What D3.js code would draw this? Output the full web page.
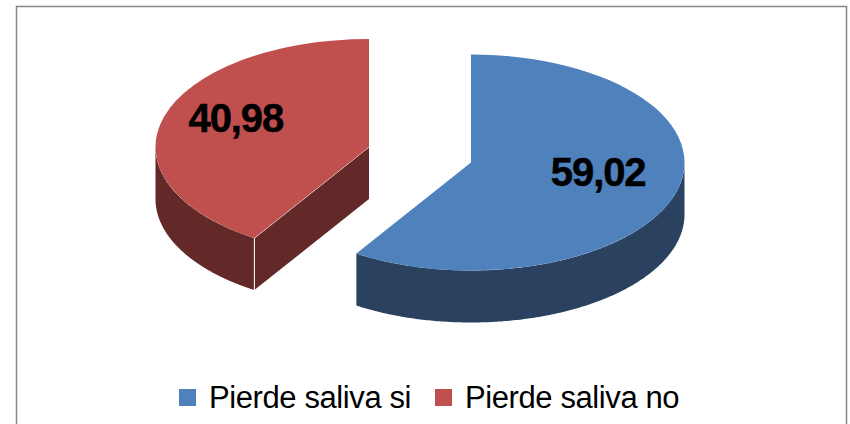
<!DOCTYPE html>
<html>
<head>
<meta charset="utf-8">
<script src="https://cdn.jsdelivr.net/npm/d3@7"></script>
<style>
    html, body { margin: 0; padding: 0; background: #fff; overflow: hidden; }
    text { font-family: "Liberation Sans", Arial, sans-serif; }
</style>
</head>
<body>
<svg width="850" height="424"></svg>
<script>
var categories = ['Pierde saliva si', 'Pierde saliva no'];
var values = [59.02, 40.98];
var valueLabels = ['59,02', '40,98'];

var topColors = ['#4f81bd', '#c0504d'];
var sideColors = ['#2a4260', '#632928'];

var svg = d3.select('svg');

var rx = 213.5;
var ry = 108;
var depth = 52;
var centers = [{ x: 471, y: 162.5 }, { x: 369, y: 147 }];

// chart frame, bottom edge falls outside the picture
svg.append('rect')
    .attr('x', 16.5)
    .attr('y', 6.5)
    .attr('width', 830)
    .attr('height', 430)
    .attr('fill', '#fff')
    .attr('stroke', '#868686')
    .attr('stroke-width', 1.5);

var slices = d3.pie().sort(null)(values);

var arc = d3.arc().innerRadius(0).outerRadius(rx);

function px(a) { return rx * Math.sin(a); }
function py(a) { return -ry * Math.cos(a); }

// outer wall follows the front half of the ellipse
var wall = d3.area()
    .x(function (a) { return px(a); })
    .y0(function (a) { return py(a); })
    .y1(function (a) { return py(a) + depth; });

slices.forEach(function (d, i) {
    var g = svg.append('g')
        .attr('transform', 'translate(' + centers[i].x + ',' + centers[i].y + ')');

    var from = Math.max(d.startAngle, Math.PI / 2);
    var to = Math.min(d.endAngle, 3 * Math.PI / 2);

    g.append('path')
        .datum(d3.range(from, to, 0.01).concat([to]))
        .attr('d', wall)
        .attr('fill', sideColors[i]);

    // the cut face is only visible on the slice that starts at the front
    if (d.startAngle > Math.PI / 2) {
        var x0 = px(d.startAngle);
        var y0 = py(d.startAngle);
        g.append('path')
            .attr('d', d3.line()([[0, 0], [x0, y0], [x0, y0 + depth], [0, depth]]))
            .attr('fill', sideColors[i]);
        g.append('line')
            .attr('x1', x0).attr('y1', y0)
            .attr('x2', x0).attr('y2', y0 + depth)
            .attr('stroke', '#fff')
            .attr('stroke-width', 1);
        g.append('line')
            .attr('x1', 0).attr('y1', 0)
            .attr('x2', x0).attr('y2', y0)
            .attr('stroke', '#fff')
            .attr('stroke-width', 1);
    }

    g.append('g')
        .attr('transform', 'scale(1,' + (ry / rx) + ')')
        .append('path')
        .attr('d', arc(d))
        .attr('fill', topColors[i]);

    var mid = (d.startAngle + d.endAngle) / 2;
    g.append('text')
        .attr('x', px(mid) * 0.635 - 3)
        .attr('y', py(mid) * 0.635 - 10)
        .attr('dy', '0.35em')
        .attr('text-anchor', 'middle')
        .attr('font-size', 40)
        .attr('font-weight', 'bold')
        .attr('letter-spacing', -1.1)
        .attr('fill', '#000')
        .attr('stroke', '#000')
        .attr('stroke-width', 0.5)
        .text(valueLabels[i]);
});

// legend
var legendX = d3.scaleOrdinal().domain(categories).range([179, 435]);

var legend = svg.selectAll('.legend')
    .data(categories)
    .enter().append('g')
    .attr('class', 'legend')
    .attr('transform', function (d) { return 'translate(' + legendX(d) + ',389)'; });

legend.append('rect')
    .attr('width', 17)
    .attr('height', 17)
    .attr('fill', function (d, i) { return topColors[i]; });

legend.append('text')
    .attr('x', 30)
    .attr('y', 19)
    .attr('font-size', 31)
    .attr('letter-spacing', -0.4)
    .attr('fill', '#000')
    .text(function (d) { return d; });
</script>
</body>
</html>
